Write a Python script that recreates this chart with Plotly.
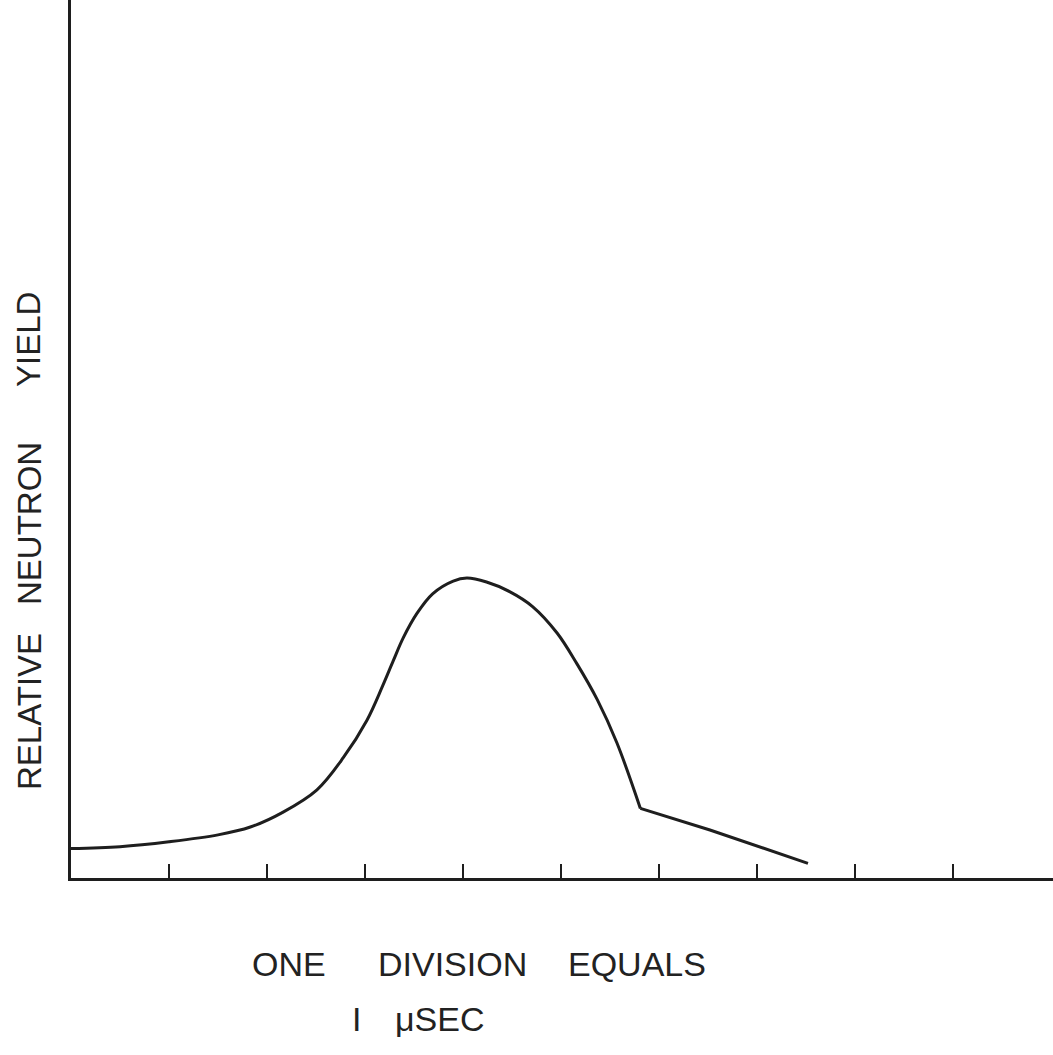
import plotly.graph_objects as go

# Time in divisions (1 division = 1 microsecond), relative neutron yield (arbitrary units)
rise_t = [0.0, 0.5, 1.0, 1.5, 1.83, 2.16, 2.51, 2.78, 3.02, 3.18, 3.29, 3.39, 3.53, 3.69, 3.90,
          4.04, 4.24, 4.48, 4.71, 4.96, 5.16, 5.37, 5.57, 5.81]
rise_y = [0.30, 0.32, 0.37, 0.44, 0.52, 0.67, 0.90, 1.23, 1.61, 1.96, 2.22, 2.45, 2.70, 2.90, 3.03,
          3.06, 3.02, 2.92, 2.77, 2.50, 2.19, 1.82, 1.38, 0.71]
tail_t = [5.81, 6.52, 7.52]
tail_y = [0.71, 0.49, 0.15]
tick_vals = [1, 2, 3, 4, 5, 6, 7, 8, 9]

ylabel_words = ["RELATIVE", "NEUTRON", "YIELD"]
xlabel_words = ["ONE", "DIVISION", "EQUALS"]
unit_words = ["I", "μSEC"]

ink = "#1e1e1e"

fig = go.Figure()
fig.add_trace(go.Scatter(x=rise_t, y=rise_y, mode="lines",
                         line=dict(color=ink, width=3, shape="spline", smoothing=1.0),
                         showlegend=False, hoverinfo="skip"))
fig.add_trace(go.Scatter(x=tail_t, y=tail_y, mode="lines",
                         line=dict(color=ink, width=3),
                         showlegend=False, hoverinfo="skip"))

W, H = 1053, 1055
L, B = 71, 177
pw, ph = W - L, H - B


def px(xp):
    return (xp - L) / pw


def py(yp):
    return (ph - yp) / ph


font = dict(family="Liberation Sans, Arial, sans-serif", size=34, color="#222")
yfont = dict(family="Liberation Sans, Arial, sans-serif", size=33, color="#222")

annotations = []
for word, yc in zip(ylabel_words, [712, 524, 340]):
    annotations.append(dict(text=word, textangle=-90, xref="paper", yref="paper",
                            x=px(29), y=py(yc), xanchor="center", yanchor="middle",
                            showarrow=False, font=yfont))
for word, xc in zip(xlabel_words, [289, 452, 637]):
    annotations.append(dict(text=word, xref="paper", yref="paper",
                            x=px(xc), y=py(964), xanchor="center", yanchor="middle",
                            showarrow=False, font=font))
for word, xc in zip(unit_words, [356, 440]):
    annotations.append(dict(text=word, xref="paper", yref="paper",
                            x=px(xc), y=py(1019), xanchor="center", yanchor="middle",
                            showarrow=False, font=font))

fig.update_layout(
    width=W, height=H,
    margin=dict(l=L, r=0, t=0, b=B),
    paper_bgcolor="white", plot_bgcolor="white",
    xaxis=dict(range=[0, pw / 98], showgrid=False, zeroline=False,
               showline=True, linecolor=ink, linewidth=3,
               tickmode="array", tickvals=tick_vals, showticklabels=False,
               ticks="inside", ticklen=14, tickwidth=2, tickcolor=ink),
    yaxis=dict(range=[0, ph / 98], showgrid=False, zeroline=False,
               showline=True, linecolor=ink, linewidth=3,
               showticklabels=False, ticks=""),
    annotations=annotations,
)

fig.write_html("out.html")
